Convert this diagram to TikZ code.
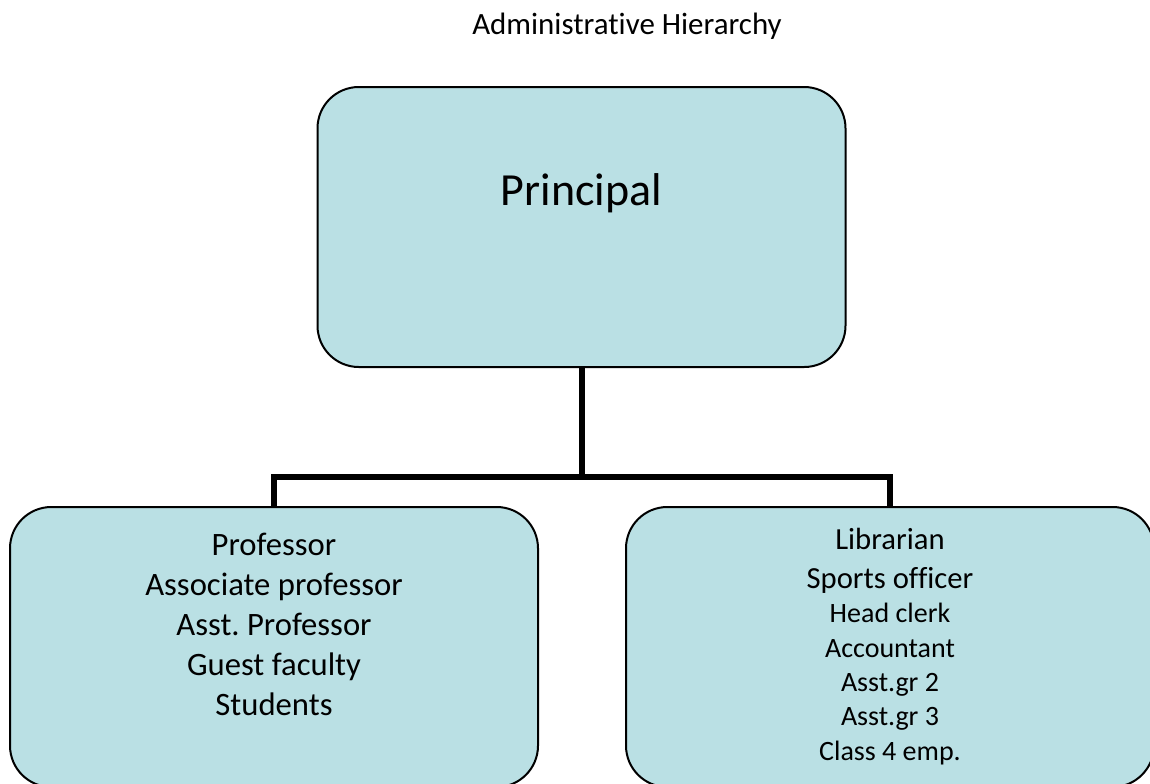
\documentclass[tikz,border=0pt]{standalone}
\usepackage{fontspec}
\setmainfont{Carlito}[Ligatures=CommonOff]
\usetikzlibrary{positioning}
\usetikzlibrary{calc}
\definecolor{boxfill}{RGB}{186,224,228}
\frenchspacing

\begin{document}
\begin{tikzpicture}[
	x=0.75pt, y=-0.75pt,
	box/.style={rounded corners=31pt, rectangle, draw, line width=1.5pt, fill=boxfill, minimum width=396pt, minimum height=210pt, inner sep=0pt},
	txt/.style={align=center, inner sep=0pt, anchor=base},
	conn/.style={line width=4.5pt, line join=miter},
	]

	\path[use as bounding box] (0,0) rectangle (1150,783);
	\clip (0,0) rectangle (1150,783);

	\node[txt, font=\fontsize{23.2}{28}\selectfont] (title) at (627,34) {Administrative Hierarchy};

	\node[box] (principal) at (581.5,227) {};
	\node[box] (teach) at (274,647) {};
	\node[box] (admin) at (890,647) {};

	\node[txt, font=\fontsize{34.5}{41}\selectfont] (ptext) at ([yshift=16.5pt] principal.center) {Principal};

	% base anchor sits on the last line
	\node[txt, font=\fontsize{24.5}{30}\selectfont] (ttext) at ([yshift=-51pt] teach.center)
		{Professor\\Associate professor\\Asst. Professor\\Guest faculty\\Students};

	\node[txt, font=\fontsize{21}{25.7}\selectfont] (atext) at ([yshift=-84.75pt] admin.center)
		{{\fontsize{23}{28}\selectfont Librarian}\\[3pt]
		{\fontsize{23}{28}\selectfont Sports officer}\\[0.5pt]
		Head clerk\\Accountant\\Asst.gr 2\\Asst.gr 3\\Class 4 emp.};

	% connectors
	\coordinate (bus) at (0,477);
	\draw[conn] (principal.south) -- (principal.south|-bus);
	\draw[conn] (teach.north) -- (teach.north|-bus) -- (admin.north|-bus) -- (admin.north);

\end{tikzpicture}
\end{document}
